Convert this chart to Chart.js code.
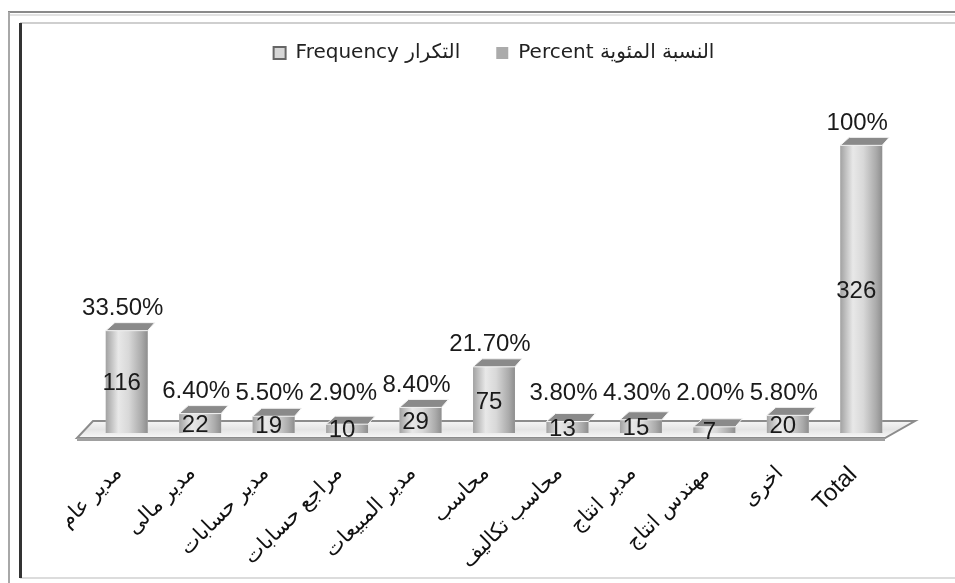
<!DOCTYPE html>
<html>
<head>
<meta charset="utf-8">
<script src="https://cdn.jsdelivr.net/npm/chart.js@4/dist/chart.umd.min.js"></script>
<style>
  html, body { margin: 0; padding: 0; background: #fff; }
  #wrap { width: 955px; height: 583px; }
</style>
</head>
<body>
<div id="wrap"><canvas id="barChart" width="955" height="583"></canvas></div>
<script>
// job titles, last one is the total
const categories = ['مدير عام', 'مدير مالى', 'مدير حسابات', 'مراجع حسابات', 'مدير المبيعات',
                    'محاسب', 'محاسب تكاليف', 'مدير انتاج', 'مهندس انتاج', 'اخرى', 'Total'];
const frequency = [116, 22, 19, 10, 29, 75, 13, 15, 7, 20, 326];
const percent = [33.5, 6.4, 5.5, 2.9, 8.4, 21.7, 3.8, 4.3, 2.0, 5.8, 100];

const seriesNames = ['Frequency التكرار', 'Percent النسبة المئوية'];

const latinFont = "'Liberation Sans', 'DejaVu Sans', sans-serif";

function pctText(v) {
    return v === 100 ? '100%' : v.toFixed(2) + '%';
}

// white page + the double frame around the chart
const framePlugin = {
    id: 'frame',
    beforeDraw(chart) {
        const ctx = chart.ctx;
        ctx.save();
        ctx.fillStyle = '#fff';
        ctx.fillRect(0, 0, chart.width, chart.height);
        ctx.lineWidth = 2;
        ctx.strokeStyle = '#8a8a8a';
        ctx.beginPath(); ctx.moveTo(8, 12); ctx.lineTo(955, 12); ctx.stroke();
        ctx.strokeStyle = '#a8a8a8';
        ctx.beginPath(); ctx.moveTo(9, 12); ctx.lineTo(9, 583); ctx.stroke();
        ctx.strokeStyle = '#e2e2e2';
        ctx.beginPath(); ctx.moveTo(10, 15); ctx.lineTo(955, 15); ctx.stroke();
        ctx.strokeStyle = '#cfcfcf';
        ctx.beginPath(); ctx.moveTo(20, 23); ctx.lineTo(955, 23); ctx.stroke();
        ctx.strokeStyle = '#dcdcdc';
        ctx.beginPath(); ctx.moveTo(20, 578); ctx.lineTo(955, 578); ctx.stroke();
        ctx.lineWidth = 3;
        ctx.strokeStyle = '#333';
        ctx.beginPath(); ctx.moveTo(20.5, 23); ctx.lineTo(20.5, 578); ctx.stroke();
        ctx.restore();
    }
};

// the flat 3d floor under the bars
const floorPlugin = {
    id: 'floor',
    beforeDatasetsDraw(chart) {
        const ctx = chart.ctx;
        const a = chart.chartArea;
        const yb = chart.scales.y.getPixelForValue(0);
        ctx.save();
        ctx.beginPath();
        ctx.moveTo(a.left - 13, yb + 5);
        ctx.lineTo(a.right - 13, yb + 5);
        ctx.lineTo(a.right + 17, yb - 12);
        ctx.lineTo(a.left + 3, yb - 12);
        ctx.closePath();
        const g = ctx.createLinearGradient(0, yb - 12, 0, yb + 5);
        g.addColorStop(0, '#f6f6f6');
        g.addColorStop(0.5, '#e4e4e4');
        g.addColorStop(1, '#f8f8f8');
        ctx.fillStyle = g;
        ctx.fill();
        ctx.lineWidth = 2;
        ctx.strokeStyle = '#8c8c8c';
        ctx.stroke();
        ctx.fillStyle = '#a0a0a0';
        ctx.fillRect(a.left - 13, yb + 5, a.right - a.left, 3);
        ctx.restore();
    }
};

// cylinder shading, dark top caps and the data labels
const cylinderPlugin = {
    id: 'cylinders',
    afterDatasetsDraw(chart) {
        const ctx = chart.ctx;
        const meta = chart.getDatasetMeta(0);
        ctx.save();
        meta.data.forEach((bar, i) => {
            const w = bar.width;
            const l = bar.x - w / 2, r = bar.x + w / 2;
            const g = ctx.createLinearGradient(l, 0, r, 0);
            g.addColorStop(0, '#a2a2a2');
            g.addColorStop(0.3, '#e8e8e8');
            g.addColorStop(0.55, '#d8d8d8');
            g.addColorStop(0.85, '#ababab');
            g.addColorStop(1, '#8e8e8e');
            ctx.fillStyle = g;
            ctx.fillRect(l, bar.y, w, bar.base - bar.y);

            ctx.beginPath();
            ctx.moveTo(l, bar.y);
            ctx.lineTo(r, bar.y);
            ctx.lineTo(r + 7, bar.y - 8);
            ctx.lineTo(l + 9, bar.y - 8);
            ctx.closePath();
            ctx.fillStyle = '#8a8a8a';
            ctx.fill();
            ctx.lineWidth = 1;
            ctx.strokeStyle = '#f4f4f4';
            ctx.stroke();
        });

        ctx.fillStyle = '#1a1a1a';
        ctx.font = '24px ' + latinFont;
        ctx.textAlign = 'center';
        ctx.textBaseline = 'middle';
        meta.data.forEach((bar, i) => {
            ctx.fillText(String(frequency[i]), bar.x - 5, (bar.y + bar.base) / 2 + 2);
            const py = Math.min(bar.y - 22, bar.base - 40);
            ctx.fillText(pctText(percent[i]), bar.x - 4, py);
        });
        ctx.restore();
    }
};

const ctx = document.getElementById('barChart').getContext('2d');
const myChart = new Chart(ctx, {
    type: 'bar',
    data: {
        labels: categories,
        datasets: [{
            label: seriesNames[0],
            data: frequency,
            backgroundColor: '#c8c8c8',
            borderWidth: 0,
            categoryPercentage: 1,
            barPercentage: 0.57
        }, {
            label: seriesNames[1],
            data: percent.map(v => v / 100),
            backgroundColor: '#ababab',
            borderWidth: 0,
            categoryPercentage: 1,
            barPercentage: 0.57
        }]
    },
    options: {
        responsive: false,
        animation: false,
        layout: { padding: { left: 90, right: 57, top: 7, bottom: 0 } },
        plugins: {
            legend: {
                position: 'top',
                labels: {
                    font: { family: "'DejaVu Sans', sans-serif", size: 20 },
                    color: '#222',
                    boxWidth: 12,
                    boxHeight: 12,
                    padding: 36,
                    generateLabels(chart) {
                        const items = Chart.defaults.plugins.legend.labels.generateLabels(chart);
                        items[0].fillStyle = '#d6d6d6';
                        items[0].strokeStyle = '#666';
                        items[0].lineWidth = 2;
                        return items;
                    }
                }
            },
            tooltip: { enabled: false }
        },
        scales: {
            x: {
                stacked: true,
                grid: { display: false },
                border: { display: false },
                ticks: {
                    color: '#111',
                    font: (c) => ({ family: latinFont, size: c.index === categories.length - 1 ? 24 : 21 }),
                    minRotation: 45,
                    maxRotation: 45,
                    padding: 20,
                    labelOffset: -8
                },
                afterFit(scale) { scale.height = 150; }
            },
            y: {
                display: false,
                min: 0,
                max: 408
            }
        }
    },
    plugins: [framePlugin, floorPlugin, cylinderPlugin]
});
</script>
</body>
</html>
